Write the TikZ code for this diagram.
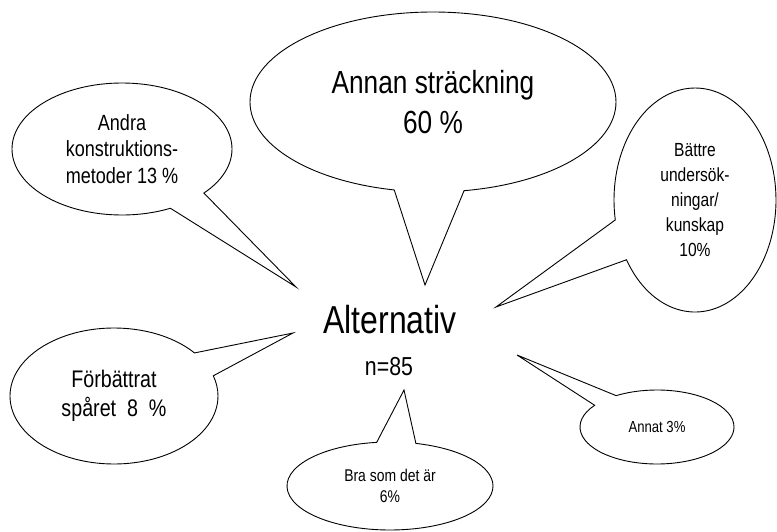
\documentclass[tikz,border=0pt]{standalone}
\usepackage{fontspec}
\setmainfont{Liberation Sans}[FakeStretch=0.82]
\usetikzlibrary{shapes.callouts}

\tikzset{
  bubble/.style={ellipse callout, draw, line width=0.9pt, align=center, inner sep=0pt, callout pointer arc=22},
}

\begin{document}
\begin{tikzpicture}[x=1pt,y=1pt,yscale=-1,xscale=1]
\useasboundingbox (0,0) rectangle (777,532);

% tips of the bubbles
\coordinate (tipAnnan) at (425,285);
\coordinate (tipAndra) at (296,287);
\coordinate (tipBattre) at (496,307);
\coordinate (tipForb) at (293,333);
\coordinate (tipBra) at (404,390);
\coordinate (tipAnnat) at (517,355);

% Text Node
\node (alt) at (390,320) [font=\fontsize{39}{44}\selectfont] {Alternativ};
% Text Node
\node (antal) at (389,367) [font=\fontsize{26}{30}\selectfont] {n=85};

%Shape: Ellipse callout
\node (annan) [bubble, minimum width=366, minimum height=180, callout absolute pointer={(tipAnnan)}, font=\fontsize{32}{40}\selectfont] at (433,102)
  {Annan sträckning\\ 60 \%};
%Shape: Ellipse callout
\node (andra) [bubble, minimum width=220, minimum height=132, callout absolute pointer={(tipAndra)}, font=\fontsize{22}{26.5}\selectfont] at (122,149)
  {Andra\\ konstruktions-\\ metoder 13 \%};
%Shape: Ellipse callout
\node (battre) [bubble, minimum width=162, minimum height=224, callout absolute pointer={(tipBattre)}, font=\fontsize{19}{25}\selectfont] at (695,200)
  {Bättre\\ undersök-\\ ningar/\\ kunskap\\ 10\%};
%Shape: Ellipse callout
\node (forb) [bubble, minimum width=208, minimum height=136, callout absolute pointer={(tipForb)}, font=\fontsize{24}{29}\selectfont] at (114,396)
  {Förbättrat\\ spåret\ \ 8\ \ \%};
%Shape: Ellipse callout
\node (bra) [bubble, minimum width=206, minimum height=88, callout absolute pointer={(tipBra)}, font=\fontsize{17}{21}\selectfont] at (390,486)
  {Bra som det är\\ 6\%};
%Shape: Ellipse callout
\node (annat) [bubble, minimum width=154, minimum height=74, callout absolute pointer={(tipAnnat)}, font=\fontsize{16}{19}\selectfont] at (657,427)
  {Annat 3\%};

\end{tikzpicture}
\end{document}
